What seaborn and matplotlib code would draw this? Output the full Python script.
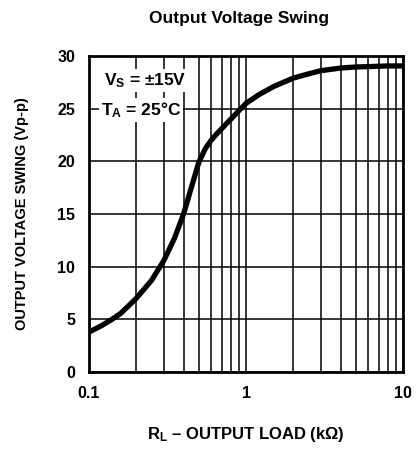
import matplotlib
matplotlib.use("Agg")
import matplotlib.pyplot as plt
import matplotlib.ticker as mticker
import numpy as np
import pandas as pd
import seaborn as sns

# values
load_kohm = [0.1, 0.12, 0.14, 0.16, 0.2, 0.25, 0.3, 0.35, 0.4, 0.45, 0.5, 0.55,
             0.6, 0.65, 0.7, 0.753, 0.8, 0.9, 1.0, 1.2, 1.5, 2.0, 2.5, 3.0,
             4.0, 5.0, 6.4, 8.0, 10.0]
swing_vpp = [3.8, 4.4, 5.0, 5.6, 7.0, 8.7, 10.6, 12.7, 15.0, 17.6, 19.9, 21.2,
             22.0, 22.6, 23.1, 23.6, 24.0, 24.8, 25.5, 26.3, 27.1, 27.9, 28.3, 28.6,
             28.85, 28.95, 29.0, 29.05, 29.05]

df = pd.DataFrame({"load": load_kohm, "swing": swing_vpp})

sns.set_style("white")
plt.rcParams["font.family"] = ["Liberation Sans", "DejaVu Sans"]
plt.rcParams["font.weight"] = "bold"
plt.rcParams["text.color"] = "black"
plt.rcParams["axes.labelcolor"] = "black"
plt.rcParams["xtick.color"] = "black"
plt.rcParams["ytick.color"] = "black"
plt.rcParams["mathtext.fontset"] = "custom"
plt.rcParams["mathtext.rm"] = "Liberation Sans:bold"
plt.rcParams["mathtext.bf"] = "Liberation Sans:bold"
plt.rcParams["mathtext.it"] = "Liberation Sans:bold"

fig = plt.figure(figsize=(4.16, 4.51), dpi=100)
ax = fig.add_axes([0.214, 0.175, 0.755, 0.701])

sns.lineplot(data=df, x="load", y="swing", color="black", linewidth=3.8, ax=ax,
             zorder=5)
ax.set_xscale("log")
ax.set_xlim(0.1, 10)
ax.set_ylim(0, 30)

ax.xaxis.set_major_locator(mticker.FixedLocator([0.1, 1, 10]))
ax.xaxis.set_major_formatter(mticker.FixedFormatter(["0.1", "1", "10"]))
ax.xaxis.set_minor_locator(mticker.LogLocator(base=10, subs=np.arange(2, 10)))
ax.xaxis.set_minor_formatter(mticker.NullFormatter())
ax.yaxis.set_major_locator(mticker.MultipleLocator(5))

ax.grid(True, which="both", axis="x", color="black", linewidth=1.1)
ax.grid(True, which="major", axis="y", color="black", linewidth=1.1)
ax.tick_params(which="both", length=0, labelsize=11.5, pad=10, colors="black")
for lab in ax.get_xticklabels() + ax.get_yticklabels():
    lab.set_fontweight("bold")

for sp in ax.spines.values():
    sp.set_color("black")
    sp.set_linewidth(2)

box = dict(facecolor="white", edgecolor="none", pad=1.5)
ax.text(0.1246, 27.7, "V$_\\mathrm{S}$ = ±15V", fontsize=12.5, fontweight="bold",
        va="center", ha="left", bbox=box, zorder=4)
ax.text(0.1193, 24.9, "T$_\\mathrm{A}$ = 25°C", fontsize=12.5, fontweight="bold",
        va="center", ha="left", bbox=box, zorder=4)

ax.set_xlabel("R$_\\mathrm{L}$ – OUTPUT LOAD (kΩ)", fontsize=12, fontweight="bold",
              labelpad=17)
ax.set_ylabel("OUTPUT VOLTAGE SWING (Vp-p)", fontsize=10.5, fontweight="bold",
              labelpad=20)
fig.text(0.575, 0.96, "Output Voltage Swing", ha="center", va="center",
         fontsize=12.5, fontweight="bold")

fig.savefig("out.png", dpi=100)
